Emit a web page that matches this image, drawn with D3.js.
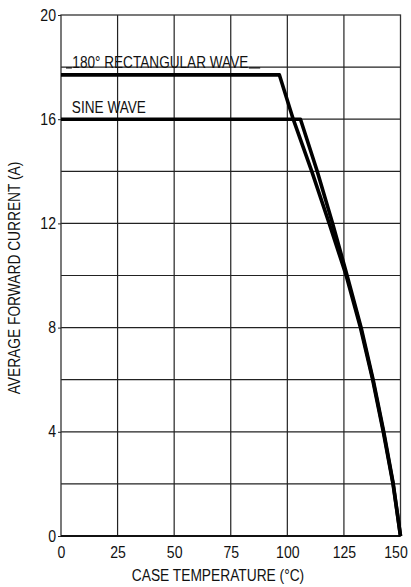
<!DOCTYPE html>
<html>
<head>
<meta charset="utf-8">
<script src="https://cdn.jsdelivr.net/npm/d3@7"></script>
<style>
  html, body { margin: 0; padding: 0; background: #fff; }
  svg { display: block; }
  text { font-family: "Liberation Sans", Arial, sans-serif; fill: #111; }
</style>
</head>
<body>
<div id="chart"></div>
<script>
// values
var tempTicks = [0, 25, 50, 75, 100, 125, 150];
var currentTicks = [0, 4, 8, 12, 16, 20];
var gridTemps = [25, 50, 75, 100, 125];
var gridCurrents = [2, 4, 6, 8, 10, 12, 14, 16, 18];

var rectTemp    = [0, 96.5, 102.6, 110.8, 118.5, 126, 132.3, 137.7, 142.4, 146.7, 150];
var rectCurrent = [17.7, 17.7, 16, 14, 12, 10, 8, 6, 4, 2, 0];

var sineTemp    = [0, 105.8, 113.2, 120, 126.4, 132.6, 137.9, 142.6, 146.8, 150];
var sineCurrent = [16, 16, 14, 12, 10, 8, 6, 4, 2, 0];

var xLabel = "CASE TEMPERATURE (\u00B0C)";
var yLabel = "AVERAGE FORWARD CURRENT (A)";

var W = 411, H = 587;
var margin = {top: 15, right: 10.5, bottom: 51, left: 61}
    , width = W - margin.left - margin.right
    , height = H - margin.top - margin.bottom;

var svg = d3.select("#chart").append("svg")
    .attr("width", W)
    .attr("height", H);

var g = svg.append("g")
    .attr("transform", "translate(" + margin.left + "," + margin.top + ")");

var x = d3.scaleLinear().domain([0, 150]).range([0, width]);
var y = d3.scaleLinear().domain([0, 20]).range([height, 0]);

// squeeze text horizontally, the sheet uses a condensed face
function narrow(sel, k) {
    sel.each(function() {
        var len = this.getComputedTextLength();
        d3.select(this)
            .attr("textLength", len * (k || 0.88))
            .attr("lengthAdjust", "spacingAndGlyphs");
    });
}

// grid
g.append("g").selectAll("line")
    .data(gridTemps)
    .enter().append("line")
    .attr("x1", d => x(d)).attr("x2", d => x(d))
    .attr("y1", 0).attr("y2", height)
    .attr("stroke", "#222").attr("stroke-width", 1.2);

g.append("g").selectAll("line")
    .data(gridCurrents)
    .enter().append("line")
    .attr("x1", 0).attr("x2", width)
    .attr("y1", d => y(d)).attr("y2", d => y(d))
    .attr("stroke", "#222").attr("stroke-width", 1.2);

// frame
g.append("rect")
    .attr("width", width).attr("height", height)
    .attr("fill", "none").attr("stroke", "#333").attr("stroke-width", 1.3);
g.append("line")
    .attr("x1", 0).attr("x2", width)
    .attr("y1", height).attr("y2", height)
    .attr("stroke", "#111").attr("stroke-width", 2);

// axes (labels only, the lines are the frame)
var xAxis = d3.axisBottom(x)
    .tickValues(tempTicks)
    .tickSize(0)
    .tickPadding(8);
var yAxis = d3.axisLeft(y)
    .tickValues(currentTicks)
    .tickSize(3)
    .tickPadding(2);

g.append("g")
    .attr("class", "axis axis--x")
    .attr("transform", "translate(0," + height + ")")
    .call(xAxis);
g.append("g")
    .attr("class", "axis axis--y")
    .call(yAxis);

g.selectAll(".axis .domain").remove();
g.selectAll(".axis text")
    .attr("font-size", 16)
    .attr("font-family", null)
    .style("fill", "#111");
g.selectAll(".axis line").attr("stroke", "#222");
g.select(".axis--x").selectAll("text")
    .attr("dy", "0.85em")
    .attr("dx", d => d === 150 ? -5 : 0);
narrow(g.selectAll(".axis text"));

// curves
var line_gen = d3.line()
    .x(d => x(d[0]))
    .y(d => y(d[1]))
    .curve(d3.curveLinear);

var rectPts = rectTemp.map((t, i) => [t, rectCurrent[i]]);
var sinePts = sineTemp.map((t, i) => [t, sineCurrent[i]]);

[rectPts, sinePts].forEach(function(pts) {
    g.append("path")
        .attr("d", line_gen(pts))
        .attr("fill", "none")
        .attr("stroke", "#000")
        .attr("stroke-width", 3.6)
        .attr("stroke-linejoin", "round");
});

// curve labels
var rectY = y(17.7) - 7;
g.append("text")
    .attr("class", "lbl")
    .attr("x", x(5)).attr("y", rectY)
    .attr("font-size", 16)
    .text("180\u00B0 RECTANGULAR WAVE");
g.append("line")
    .attr("x1", x(2.2)).attr("x2", x(4.8))
    .attr("y1", rectY).attr("y2", rectY)
    .attr("stroke", "#111").attr("stroke-width", 1.2);
g.append("line")
    .attr("x1", x(83)).attr("x2", x(88))
    .attr("y1", rectY).attr("y2", rectY)
    .attr("stroke", "#111").attr("stroke-width", 1.2);

g.append("text")
    .attr("class", "lbl")
    .attr("x", x(4.8)).attr("y", y(16) - 6)
    .attr("font-size", 16)
    .text("SINE WAVE");
narrow(g.selectAll(".lbl"), 0.85);

// axis titles
svg.append("text")
    .attr("class", "ttl")
    .attr("x", 218).attr("y", 581)
    .attr("text-anchor", "middle")
    .attr("font-size", 16)
    .text(xLabel);

svg.append("text")
    .attr("class", "ttl")
    .attr("transform", "translate(20,278) rotate(-90)")
    .attr("text-anchor", "middle")
    .attr("font-size", 16)
    .text(yLabel);
narrow(svg.selectAll(".ttl"), 0.86);
</script>
</body>
</html>
